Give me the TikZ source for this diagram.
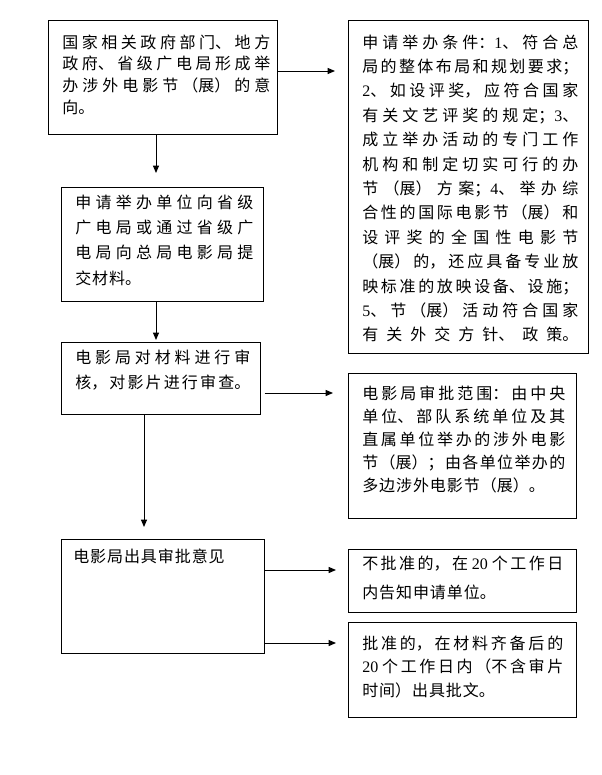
\documentclass[tikz,border=0pt]{standalone}
\usepackage{fontspec}
\setmainfont{Liberation Serif}
\newfontfamily\cjk{Noto Sans CJK SC}
\usetikzlibrary{arrows.meta, positioning, fit}
\XeTeXlinebreaklocale "zh"
\XeTeXlinebreakskip=0.7pt plus 6pt
\tikzset{
  frame/.style={rectangle, draw=black, line width=0.75pt, inner sep=0pt},
  txt/.style={anchor=base west, inner sep=0pt, align=justify,
    font=\cjk\fontsize{12pt}{#1}\selectfont},
  arrow/.style={-{Triangle[length=5.5pt, width=4.5pt]}, line width=0.75pt, color=black}
}

\begin{document}
\begin{tikzpicture}[x=0.75pt, y=-0.75pt]
  \useasboundingbox (0,0) rectangle (601,775);

  % Boxes
  \foreach \n/\xa/\ya/\xb/\yb in {intent/48/20/277/134, cond/348/20/588/353,
      submit/61/187/263/301, review/61/342/260/414, scope/348/373/576/518,
      decide/61/539/264/653, reject/348/549/576/612, approve/348/622/576/717} {
    \coordinate (\n-nw) at (\xa,\ya);
    \coordinate (\n-se) at (\xb,\yb);
    \node[frame, fit=(\n-nw)(\n-se)] (\n) {};
  }

  % Texts
  \node[txt=16.3pt, text width=156pt] (intent-t) at (62,48) {国家相关政府部门、地方\linebreak
    政府、省级广电局形成举\linebreak
    办涉外电影节（展）的意\linebreak
    向。};
  \node[txt=18.3pt, text width=162pt] (cond-t) at (362,48) {申请举办条件：\textrm{1}、符合总\linebreak
    局的整体布局和规划要求；\linebreak
    \textrm{2}、如设评奖，应符合国家\linebreak
    有关文艺评奖的规定；\textrm{3}、\linebreak
    成立举办活动的专门工作\linebreak
    机构和制定切实可行的办\linebreak
    节（展）方案；\textrm{4}、举办综\linebreak
    合性的国际电影节（展）和\linebreak
    设评奖的全国性电影节\linebreak
    （展）的，还应具备专业放\linebreak
    映标准的放映设备、设施；\linebreak
    \textrm{5}、节（展）活动符合国家\linebreak
    有关外交方针、政策。\linebreak};
  \node[txt=19.1pt, text width=133.5pt] (submit-t) at (75,208) {申请举办单位向省级\linebreak
    广电局或通过省级广\linebreak
    电局向总局电影局提\linebreak
    交材料。};
  \node[txt=18.75pt, text width=131.25pt] (review-t) at (75,363) {电影局对材料进行审\linebreak
    核，对影片进行审查。\linebreak};
  \node[txt=17.4pt, text width=152.25pt] (scope-t) at (362,399) {电影局审批范围：由中央\linebreak
    单位、部队系统单位及其\linebreak
    直属单位举办的涉外电影\linebreak
    节（展）；由各单位举办的\linebreak
    多边涉外电影节（展）。};
  \node[txt=17pt, text width=140pt] (decide-t) at (73,562) {电影局出具审批意见};
  \node[txt=21.75pt, text width=150.75pt] (reject-t) at (362,569) {不批准的，在\ \textrm{20}\ 个工作日\linebreak
    内告知申请单位。};
  \node[txt=17.8pt, text width=150.75pt] (approve-t) at (362,649) {批准的，在材料齐备后的\linebreak
    \textrm{20}\ 个工作日内（不含审片\linebreak
    时间）出具批文。};

  % Connectors
  \coordinate (a1) at (335,71);
  \coordinate (a2) at (156,173);
  \coordinate (a3) at (156,340);
  \coordinate (a4) at (333,393);
  \coordinate (a5) at (144,527);
  \coordinate (a6) at (336,570);
  \coordinate (a7) at (336,643);
  \draw[arrow] (intent.east |- a1) -- (a1);
  \draw[arrow] (intent.south -| a2) -- (a2);
  \draw[arrow] (submit.south -| a3) -- (a3);
  \draw[arrow] ([xshift=3pt]review.east |- a4) -- (a4);
  \draw[arrow] (review.south -| a5) -- (a5);
  \draw[arrow] (decide.east |- a6) -- (a6);
  \draw[arrow] (decide.east |- a7) -- (a7);
\end{tikzpicture}
\end{document}
